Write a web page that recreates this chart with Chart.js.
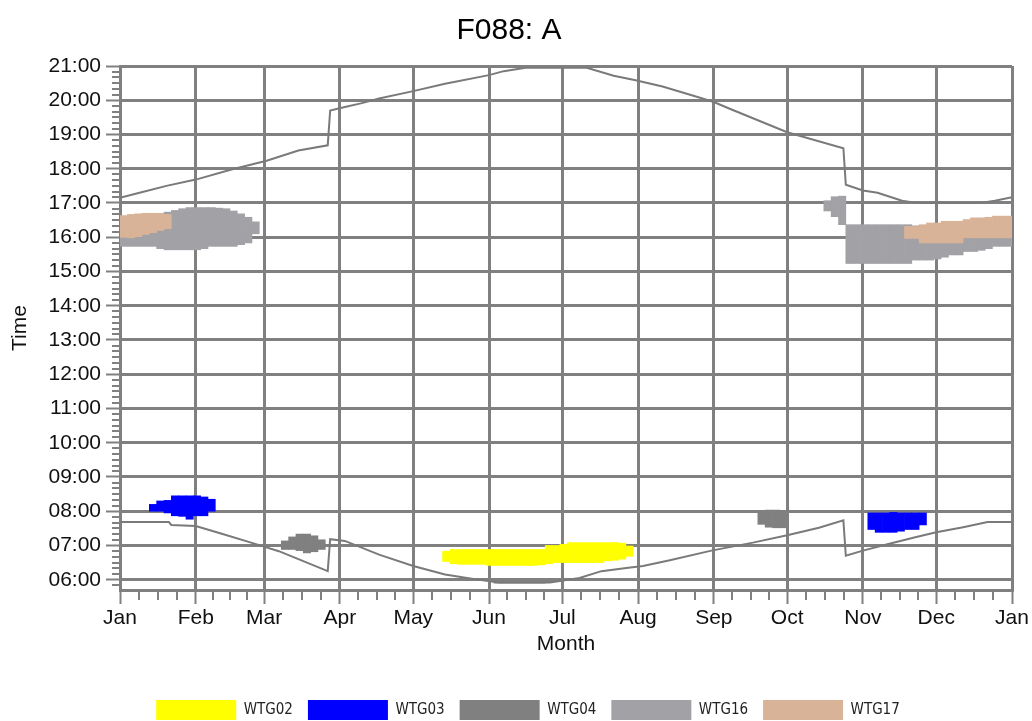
<!DOCTYPE html>
<html lang="en">
<head>
<meta charset="UTF-8">
<title>F088: A</title>
<script src="https://cdn.jsdelivr.net/npm/chart.js@4"></script>
<style>
    html, body { margin: 0; padding: 0; background: #fff; }
    #wrap { width: 1032px; height: 721px; }
</style>
</head>
<body>
<div id="wrap"><canvas id="chart"></canvas></div>
<script>
    // month axis (day of year)
    const monthNames = ['Jan', 'Feb', 'Mar', 'Apr', 'May', 'Jun', 'Jul', 'Aug', 'Sep', 'Oct', 'Nov', 'Dec', 'Jan'];
    const monthStarts = [0, 31, 59, 90, 120, 151, 181, 212, 243, 273, 304, 334, 365];

    // sunrise / sunset, [day, time]
    const sunrise = [
        [0, '07:41'], [20, '07:41'], [21, '07:36'], [31, '07:34'], [42, '07:20'], [56, '07:02'], [65, '06:50'],
        [85, '06:15'], [86, '07:11'], [92, '07:08'], [106, '06:44'], [120, '06:24'], [133, '06:09'], [142, '06:03'],
        [150, '05:58'], [155, '05:55'], [176, '05:55'], [182, '05:59'], [188, '06:03'], [197, '06:15'], [208, '06:21'],
        [214, '06:24'], [225, '06:34'], [242, '06:51'], [259, '07:05'], [273, '07:18'], [286, '07:31'], [296, '07:44'],
        [297, '06:42'], [304, '06:51'], [314, '07:02'], [325, '07:14'], [334, '07:23'], [345, '07:32'], [355, '07:41'],
        [365, '07:41']
    ];
    const sunset = [
        [0, '17:09'], [8, '17:18'], [19, '17:30'], [31, '17:41'], [46, '17:59'], [60, '18:14'], [73, '18:32'],
        [85, '18:41'], [86, '19:42'], [92, '19:48'], [99, '19:55'], [106, '20:03'], [120, '20:16'], [133, '20:29'],
        [151, '20:44'], [157, '20:51'], [166, '20:57'], [191, '20:57'], [202, '20:43'], [211, '20:35'], [222, '20:24'],
        [236, '20:06'], [243, '19:57'], [249, '19:46'], [273, '19:04'], [296, '18:36'], [297, '17:32'], [304, '17:22'],
        [310, '17:18'], [315, '17:11'], [320, '17:04'], [326, '17:00'], [352, '17:00'], [358, '17:04'], [365, '17:10']
    ];

    // shadow periods in 3-day bins: [first day, latest time, earliest time]
    const wtg02 = [
        [132, '06:50', '06:32'], [135, '06:53', '06:28'], [138, '06:53', '06:27'], [141, '06:53', '06:27'],
        [144, '06:53', '06:27'], [147, '06:53', '06:27'], [150, '06:53', '06:25'], [153, '06:53', '06:25'],
        [156, '06:53', '06:25'], [159, '06:53', '06:25'], [162, '06:53', '06:25'], [165, '06:53', '06:25'],
        [168, '06:53', '06:25'], [171, '06:53', '06:26'], [174, '07:00', '06:28'], [177, '07:00', '06:30'],
        [180, '07:02', '06:30'], [183, '07:05', '06:30'], [186, '07:05', '06:30'], [189, '07:05', '06:30'],
        [192, '07:05', '06:30'], [195, '07:05', '06:30'], [198, '07:05', '06:33'], [201, '07:05', '06:34'],
        [204, '07:04', '06:36'], [207, '06:59', '06:41']
    ];
    const wtg03 = [
        [12, '08:12', '08:00'], [15, '08:18', '08:00'], [18, '08:19', '07:57'], [21, '08:27', '07:52'],
        [24, '08:27', '07:51'], [27, '08:27', '07:46'], [30, '08:27', '07:52'], [33, '08:25', '07:52'],
        [36, '08:21', '08:00'],
        [306, '07:57', '07:28'], [309, '07:57', '07:23'], [312, '07:57', '07:23'], [315, '07:58', '07:23'],
        [318, '07:57', '07:25'], [321, '07:57', '07:28'], [324, '07:57', '07:28'], [327, '07:57', '07:36']
    ];
    const wtg04 = [
        [66, '07:08', '06:53'], [69, '07:15', '06:53'], [72, '07:20', '06:51'], [75, '07:20', '06:47'],
        [78, '07:17', '06:49'], [81, '07:10', '06:53'],
        [153, '06:00', '05:54'], [156, '06:00', '05:54'], [159, '06:00', '05:54'], [162, '06:00', '05:54'],
        [165, '06:00', '05:54'], [168, '06:00', '05:54'], [171, '06:00', '05:54'], [174, '06:00', '05:55'],
        [261, '08:00', '07:37'], [264, '08:02', '07:32'], [267, '08:02', '07:31'], [270, '08:01', '07:31']
    ];
    const wtg16 = [
        [0, '16:30', '15:44'], [3, '16:34', '15:44'], [6, '16:36', '15:44'], [9, '16:38', '15:44'],
        [12, '16:40', '15:44'], [15, '16:41', '15:40'], [18, '16:44', '15:38'], [21, '16:47', '15:38'],
        [24, '16:50', '15:38'], [27, '16:52', '15:38'], [30, '16:52', '15:38'], [33, '16:52', '15:40'],
        [36, '16:52', '15:44'], [39, '16:51', '15:44'], [42, '16:50', '15:44'], [45, '16:46', '15:44'],
        [48, '16:41', '15:47'], [51, '16:35', '15:50'], [54, '16:27', '16:06'],
        [288, '17:04', '16:46'], [291, '17:11', '16:36'], [294, '17:12', '16:22'], [297, '16:22', '15:14'],
        [300, '16:22', '15:14'], [303, '16:22', '15:14'], [306, '16:22', '15:14'], [309, '16:22', '15:14'],
        [312, '16:22', '15:14'], [315, '16:22', '15:14'], [318, '16:22', '15:14'], [321, '16:22', '15:14'],
        [324, '16:20', '15:20'], [327, '16:20', '15:20'], [330, '16:20', '15:20'], [333, '16:20', '15:22'],
        [336, '16:20', '15:25'], [339, '16:20', '15:29'], [342, '16:20', '15:29'], [345, '16:20', '15:35'],
        [348, '16:20', '15:35'], [351, '16:20', '15:37'], [354, '16:20', '15:40'], [357, '16:20', '15:44'],
        [360, '16:20', '15:44'], [363, '16:20', '15:44']
    ];
    const wtg17 = [
        [0, '16:38', '16:00'], [3, '16:40', '15:59'], [6, '16:41', '16:01'], [9, '16:42', '16:05'],
        [12, '16:42', '16:08'], [15, '16:42', '16:12'], [18, '16:40', '16:15'],
        [321, '16:19', '15:58'], [324, '16:19', '15:58'], [327, '16:22', '15:50'], [330, '16:25', '15:50'],
        [333, '16:25', '15:50'], [336, '16:28', '15:50'], [339, '16:28', '15:50'], [342, '16:28', '15:50'],
        [345, '16:31', '15:59'], [348, '16:34', '15:59'], [351, '16:34', '15:59'], [354, '16:35', '15:59'],
        [357, '16:37', '15:59'], [360, '16:37', '15:59'], [363, '16:37', '15:59']
    ];

    const toHours = s => {
        const [h, m] = s.split(':').map(Number);
        return h + m / 60;
    };
    const binDays = 3;
    const bars = rows => rows.map(r => ({x: r[0] + binDays / 2, y: [toHours(r[2]), toHours(r[1])]}));
    const line = rows => rows.map(r => ({x: r[0], y: toHours(r[1])}));

    const FONT = "'Liberation Sans', Arial, sans-serif";
    const GRID = '#808080';

    const shadow = (label, rows, color, order) => ({
        type: 'bar',
        label: label,
        data: bars(rows),
        backgroundColor: color,
        borderWidth: 0,
        barPercentage: 1,
        categoryPercentage: 1,
        order: order
    });
    const sunLine = (label, rows) => ({
        type: 'line',
        label: label,
        data: line(rows),
        borderColor: '#7a7a7a',
        borderWidth: 2,
        pointRadius: 0,
        tension: 0,
        fill: false,
        order: 0
    });

    // nudge the legend row to the right, as in the original
    const legendShift = {
        id: 'legendShift',
        afterLayout(chart) {
            if (chart.legend) {
                chart.legend.left += 19;
                chart.legend.right += 19;
            }
        }
    };

    const config = {
        data: {
            datasets: [
                shadow('WTG02', wtg02, '#ffff00', 1),
                shadow('WTG03', wtg03, '#0000ff', 1),
                shadow('WTG04', wtg04, '#808080', 1),
                shadow('WTG16', wtg16, '#a2a2a6', 2),
                shadow('WTG17', wtg17, '#d9b397', 1),
                sunLine('Sunrise', sunrise),
                sunLine('Sunset', sunset)
            ]
        },
        plugins: [legendShift],
        options: {
            responsive: true,
            maintainAspectRatio: false,
            animation: false,
            layout: {padding: {top: 0, left: 6, right: 20, bottom: -9}},
            plugins: {
                title: {
                    display: true,
                    text: 'F088: A',
                    color: '#000',
                    font: {family: FONT, size: 30, weight: 'normal'},
                    padding: {top: 13, bottom: 17}
                },
                legend: {
                    position: 'bottom',
                    labels: {
                        boxWidth: 80,
                        boxHeight: 20,
                        padding: 15,
                        color: '#222',
                        font: {family: "'Liberation Sans Narrow', 'DejaVu Sans Condensed', 'Liberation Sans', sans-serif", size: 15},
                        filter: (item, data) => data.datasets[item.datasetIndex].type === 'bar',
                        sort: (a, b) => a.datasetIndex - b.datasetIndex
                    }
                },
                tooltip: {enabled: false}
            },
            scales: {
                x: {
                    type: 'linear',
                    min: 0,
                    max: 365,
                    offset: false,
                    stacked: true,
                    z: 1,
                    afterBuildTicks: scale => {
                        const ticks = [];
                        for (let i = 0; i < 12; i++) {
                            const s = monthStarts[i], e = monthStarts[i + 1];
                            ticks.push({value: s, isMajor: true});
                            for (let q = 1; q < 4; q++) ticks.push({value: s + (e - s) * q / 4, isMajor: false});
                        }
                        ticks.push({value: 365, isMajor: true});
                        scale.ticks = ticks;
                    },
                    afterFit: scale => { scale.height = 95; },
                    ticks: {
                        autoSkip: false,
                        maxRotation: 0,
                        minRotation: 0,
                        padding: 2,
                        color: '#111',
                        font: {family: FONT, size: 21},
                        callback: (value, i, ticks) => ticks[i].isMajor ? monthNames[monthStarts.indexOf(value)] : ''
                    },
                    grid: {
                        offset: false,
                        color: ctx => ctx.tick && ctx.tick.isMajor ? GRID : 'rgba(0,0,0,0)',
                        lineWidth: ctx => ctx.tick && ctx.tick.isMajor ? 3 : 0,
                        tickColor: GRID,
                        tickWidth: 2,
                        tickLength: 14,
                        tickBorderDash: ctx => ctx.tick && ctx.tick.isMajor ? [] : [8, 30]
                    },
                    border: {color: GRID, width: 3},
                    title: {
                        display: true,
                        text: 'Month',
                        color: '#111',
                        font: {family: FONT, size: 21},
                        padding: {top: 0, bottom: 28}
                    }
                },
                y: {
                    type: 'linear',
                    min: 5.7,
                    max: 21,
                    bounds: 'data',
                    stacked: false,
                    z: 1,
                    afterBuildTicks: scale => {
                        const ticks = [];
                        for (let h = 5; h <= 21; h++) {
                            for (let m = 0; m < 60; m += 10) {
                                const v = h + m / 60;
                                if (v >= 5.7 && v <= 21.001) ticks.push({value: v, isMajor: m === 0, hour: h});
                            }
                        }
                        scale.ticks = ticks;
                    },
                    afterFit: scale => { scale.width = 114; },
                    ticks: {
                        autoSkip: false,
                        padding: 5,
                        color: '#111',
                        font: {family: FONT, size: 21},
                        callback: (value, i, ticks) => ticks[i].isMajor ? String(ticks[i].hour).padStart(2, '0') + ':00' : ''
                    },
                    grid: {
                        color: ctx => ctx.tick && ctx.tick.isMajor ? GRID : 'rgba(0,0,0,0)',
                        lineWidth: ctx => ctx.tick && ctx.tick.isMajor ? 3 : 0,
                        tickColor: GRID,
                        tickWidth: 2,
                        tickLength: 14,
                        tickBorderDash: ctx => ctx.tick && ctx.tick.isMajor ? [] : [0, 6, 30]
                    },
                    border: {color: GRID, width: 3},
                    title: {
                        display: true,
                        text: 'Time',
                        color: '#111',
                        font: {family: FONT, size: 21},
                        padding: {top: 2, bottom: 0}
                    }
                }
            }
        }
    };
    const chart = new Chart(document.getElementById('chart'), config);
</script>
</body>
</html>
